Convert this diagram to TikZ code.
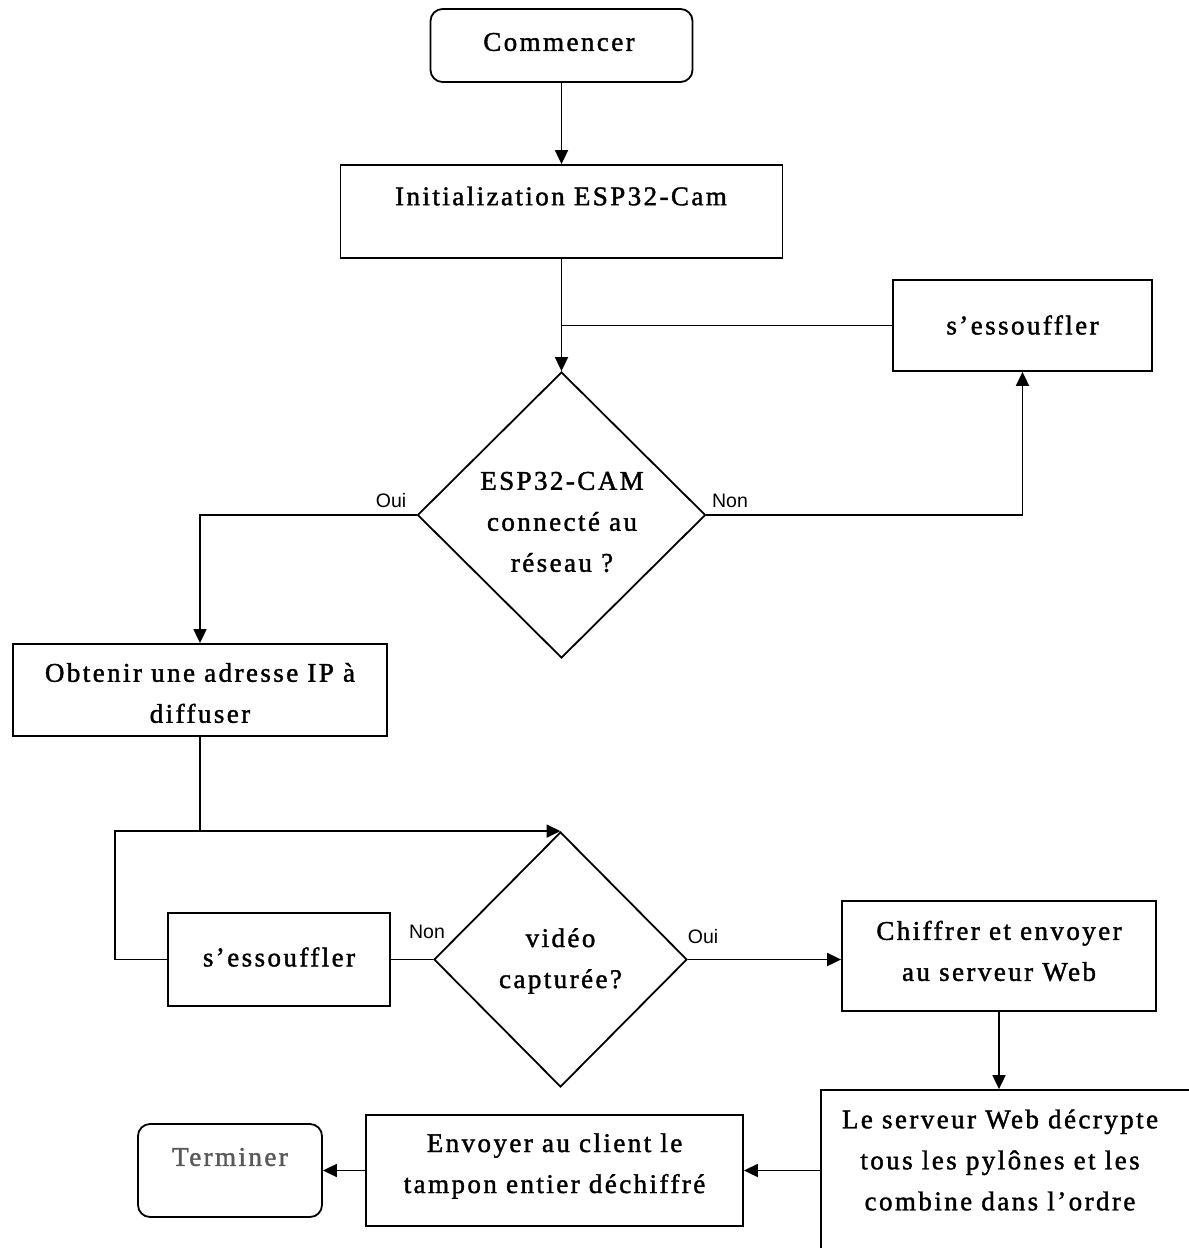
\documentclass[tikz,border=0pt]{standalone}
\usepackage{fontspec}
\setmainfont{Liberation Serif}[LetterSpace=9.0,FakeBold=1.5]
\newfontfamily\labfont{Liberation Sans}
\usetikzlibrary{shapes.geometric,arrows.meta}
\tikzset{
  sbox/.style={draw, line width=1.8pt, inner sep=0pt},
  rbox/.style={draw, line width=1.8pt, inner sep=0pt, rounded corners=12pt},
  dia/.style={draw, diamond, line width=1.8pt, inner sep=0pt},
  txt/.style={font=\fontsize{27}{41}\selectfont, align=center, inner sep=0pt},
  lbl/.style={font=\labfont\fontsize{19.5}{21}\selectfont, inner sep=0pt},
  conn/.style={line width=1.8pt},
  arr/.style={line width=1.8pt, -{Triangle[length=14pt,width=13pt]}}
}
\begin{document}
\begin{tikzpicture}[x=1pt,y=-1pt]
\clip (0,0) rectangle (1189,1248);
\fill[white] (0,0) rectangle (1189,1248);

% boxes
\node[rbox, minimum width=262pt, minimum height=73pt] (start) at (561.5,45.5) {};
\node[txt] (tstart) at (559,42) {Commencer};
\node[sbox, minimum width=442pt, minimum height=93pt] (init) at (561.5,211.5) {};
\node[txt] (tinit) at (561,196) {Initialization ESP32-Cam};
\node[sbox, minimum width=259pt, minimum height=91pt] (ess1) at (1022.5,325.5) {};
\node[txt] (tess1) at (1022.5,325) {s’essouffler};
\node[dia, minimum width=288pt, minimum height=286pt] (d1) at (561.5,515) {};
\node[txt] (td1) at (562,522) {ESP32-CAM\\connecté au\\réseau ?};
\node[sbox, minimum width=374pt, minimum height=92pt] (obt) at (200,690) {};
\node[txt] (tobt) at (200,693) {Obtenir une adresse IP à\\diffuser};
\node[dia, minimum width=253pt, minimum height=255pt] (d2) at (560.5,959.5) {};
\node[txt] (td2) at (560.5,961) {vidéo\\capturée?};
\node[sbox, minimum width=222pt, minimum height=93pt] (ess2) at (279,959.5) {};
\node[txt] (tess2) at (279,957) {s’essouffler};
\node[sbox, minimum width=314pt, minimum height=110pt] (chif) at (999,956) {};
\node[txt] (tchif) at (999,951) {Chiffrer et envoyer\\au serveur Web};
\node[sbox, minimum width=380pt, minimum height=200pt] (serv) at (1011,1190) {};
\node[txt] (tserv) at (1000,1160) {Le serveur Web décrypte\\tous les pylônes et les\\combine dans l’ordre};
\node[sbox, minimum width=377pt, minimum height=111pt] (env) at (554.5,1170.5) {};
\node[txt] (tenv) at (554.5,1166) {Envoyer au client le\\tampon entier déchiffré};
\node[rbox, minimum width=184pt, minimum height=93pt] (term) at (230,1170.5) {};
\node[txt, text=black!65] (tterm) at (230,1157) {Terminer};

% connectors
\draw[arr] (start.south) -- (init.north);
\draw[arr] (init.south) -- (d1.north);
\draw[conn] (ess1.west) -- (ess1.west -| d1.north);
\draw[arr] (d1.east) -| (ess1.south);
\draw[arr] (d1.west) -| (obt.north);
\draw[arr] (obt.south) |- (d2.north);
\path (d2.north) ++(-445.5,0) coordinate (lp);
\draw[conn] (ess2.west) -| (lp) -- (obt.south |- lp);
\draw[conn] (d2.west) -- (ess2.east);
\draw[arr] (d2.east) -- (d2.east -| chif.west);
\draw[arr] (chif.south) -- (chif.south |- serv.north);
\draw[arr] (serv.west |- env.east) -- (env.east);
\draw[arr] (env.west) -- (term.east);

% labels
\node[lbl] (loui1) at (391,501) {Oui};
\node[lbl] (lnon1) at (730,501) {Non};
\node[lbl] (lnon2) at (427,932) {Non};
\node[lbl] (loui2) at (703,937) {Oui};
\end{tikzpicture}
\end{document}
